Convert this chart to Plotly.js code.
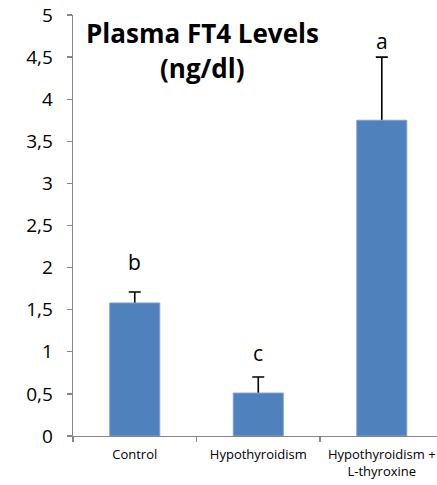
<!DOCTYPE html>
<html>
<head>
<meta charset="utf-8">
<script src="https://cdn.plot.ly/plotly-3.0.1.min.js"></script>
<style>html,body{margin:0;padding:0;background:#fff;}</style>
</head>
<body>
<div id="chart" style="width:437px;height:485px;"></div>
<script>
// Data
const categories = ['Control', 'Hypothyroidism', 'Hypothyroidism +<br>L-thyroxine'];
const ft4Values = [1.58, 0.51, 3.75];
const ft4Errors = [0.13, 0.19, 0.75];
const sigLetters = ['b', 'c', 'a'];
const yTickVals = [0, 0.5, 1, 1.5, 2, 2.5, 3, 3.5, 4, 4.5, 5];
const yTickText = ['0', '0,5', '1', '1,5', '2', '2,5', '3', '3,5', '4', '4,5', '5'];
const titleLines = ['Plasma FT4 Levels', '(ng/dl)'];

// Styles (pixel offsets of the letters above each error bar)
const letterShift = [30, 24, 16];
const axisColor = '#868686';
const barColor = '#4F81BD';

// Trace 1: invisible bars carrying the error bars (drawn underneath)
const errTrace = {
  type: 'bar', x: categories, y: ft4Values,
  marker: { color: 'rgba(0,0,0,0)', line: { width: 0 } },
  error_y: { type: 'data', array: ft4Errors, color: '#000', thickness: 1.6, width: 6 },
  hoverinfo: 'none'
};
// Trace 2: visible bars on top, hiding the lower half of each error bar
const barTrace = {
  type: 'bar', x: categories, y: ft4Values,
  marker: { color: barColor, line: { color: '#7FA1D0', width: 1 } },
  hoverinfo: 'none'
};

const annotations = categories.map((c, i) => ({
  x: c, y: ft4Values[i] + ft4Errors[i], xref: 'x', yref: 'y',
  text: sigLetters[i], showarrow: false, yshift: letterShift[i],
  yanchor: 'middle', font: { family: 'Open Sans', size: 21, color: '#000' }
}));
const titleY = [0.958, 0.874];
titleLines.forEach((t, i) => annotations.push({
  x: 0.355, y: titleY[i], xref: 'paper', yref: 'paper', text: '<b>' + t + '</b>',
  showarrow: false, xanchor: 'center', yanchor: 'middle',
  font: { family: 'Open Sans', size: 26, color: '#000' }
}));

const layout = {
  width: 437, height: 485,
  margin: { l: 73, r: 0, t: 15, b: 49, pad: 0 },
  paper_bgcolor: '#fff', plot_bgcolor: '#fff',
  showlegend: false,
  barmode: 'overlay',
  bargap: 0.595,
  xaxis: {
    type: 'category', range: [-0.5, 2.447],
    showline: true, linecolor: axisColor, linewidth: 1.3,
    ticks: 'outside', tickson: 'boundaries', ticklen: 5, tickcolor: axisColor, tickwidth: 1.3,
    showgrid: false, zeroline: false,
    ticklabelstandoff: 6,
    tickfont: { family: 'Open Sans', size: 13, color: '#000' }
  },
  yaxis: {
    range: [0, 5], tickvals: yTickVals, ticktext: yTickText,
    showline: true, linecolor: axisColor, linewidth: 1.3,
    ticks: 'outside', ticklen: 5, tickcolor: axisColor, tickwidth: 1.3,
    showgrid: false, zeroline: false,
    ticklabelstandoff: 10,
    tickfont: { family: 'Open Sans', size: 19, color: '#000' }
  },
  annotations: annotations
};

Plotly.newPlot('chart', [errTrace, barTrace], layout, { staticPlot: true, displayModeBar: false });
</script>
</body>
</html>
